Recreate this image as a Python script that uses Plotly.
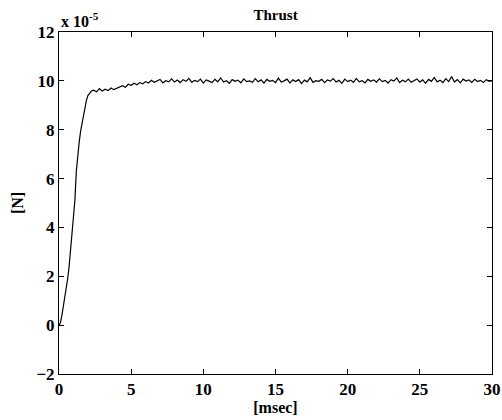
import numpy as np
import plotly.graph_objects as go

# thrust in units of 1e-5 N, time in msec
rise_t = [0.0, 0.1, 0.2, 0.3, 0.4, 0.5, 0.6, 0.7, 0.8, 0.9, 1.0, 1.1,
          1.2, 1.3, 1.4, 1.5, 1.6, 1.7, 1.8, 1.9, 2.0, 2.1, 2.2, 2.3]
rise_thrust = [0.0, 0.1, 0.4, 0.75, 1.1, 1.5, 1.9, 2.4, 3.1, 3.9, 4.5, 5.1,
               6.3, 7.0, 7.5, 7.95, 8.3, 8.65, 8.95, 9.2, 9.4, 9.5, 9.55, 9.6]

plateau_thrust = [
    9.62, 9.55, 9.68, 9.58, 9.66, 9.60, 9.71, 9.64, 9.70, 9.76,
    9.80, 9.74, 9.86, 9.82, 9.90, 9.84, 9.93, 9.88, 9.97, 9.91,
    10.02, 9.94, 9.99, 10.06, 9.92, 10.01, 9.96, 10.08, 9.95, 10.03,
    9.93, 10.05, 9.98, 10.10, 9.94, 10.02, 9.97, 10.07, 9.91, 10.04,
    9.99, 9.93, 10.06, 9.96, 10.12, 9.95, 10.01, 9.90, 10.05, 9.98,
    10.03, 9.92, 10.08, 9.97, 10.00, 9.94, 10.09, 9.96, 10.04, 9.91,
    10.06, 9.98, 10.02, 9.93, 10.11, 9.95, 10.00, 10.07, 9.92, 10.04,
    9.97, 10.05, 9.89, 10.03, 9.96, 10.13, 9.94, 10.01, 9.98, 10.06,
    9.93, 10.04, 9.99, 10.09, 9.95, 10.02, 9.90, 10.07, 9.97, 10.03,
    9.94, 10.10, 9.96, 10.01, 9.92, 10.06, 9.98, 10.04, 9.95, 10.08,
    9.97, 10.02, 9.91, 10.05, 9.99, 10.12, 9.93, 10.03, 9.96, 10.07,
    9.94, 10.01, 10.08, 9.95, 10.04, 9.90, 10.06, 9.98, 10.14, 9.96,
    10.03, 9.93, 10.09, 9.97, 10.18, 9.95, 10.05, 9.92, 10.07, 9.99,
    10.04, 9.94, 10.06, 9.97, 10.02, 9.93, 10.05, 9.98, 10.01,
]
plateau_t = np.linspace(2.4, 30.0, len(plateau_thrust))

x_ticks = [0, 5, 10, 15, 20, 25, 30]
y_ticks = [-2, 0, 2, 4, 6, 8, 10, 12]

t = list(rise_t) + plateau_t.tolist()
thrust = rise_thrust + plateau_thrust

serif = 'Liberation Serif, Times New Roman, serif'

fig = go.Figure(go.Scatter(x=t, y=thrust, mode='lines',
                           line=dict(color='black', width=1.2),
                           showlegend=False))

axis_common = dict(showline=True, linecolor='black', linewidth=1, mirror='allticks',
                   ticks='inside', ticklen=5, tickcolor='black', showgrid=False,
                   zeroline=False, automargin=False,
                   tickfont=dict(family=serif, size=17, color='black', weight='bold'))

fig.update_layout(
    width=502, height=420,
    paper_bgcolor='white', plot_bgcolor='white',
    margin=dict(l=59, r=10, t=32, b=46),
    title=dict(text='Thrust', x=0.549, xanchor='center', y=0.966, yanchor='middle',
               font=dict(family=serif, size=15, color='black', weight='bold')),
    xaxis=dict(range=[0, 30], tickvals=x_ticks,
               title=dict(text='[msec]', standoff=0,
                          font=dict(family=serif, size=16, color='black', weight='bold')),
               **axis_common),
    yaxis=dict(range=[-2, 12], tickvals=y_ticks,
               title=dict(text='[N]', standoff=8,
                          font=dict(family=serif, size=16, color='black', weight='bold')),
               **axis_common),
    annotations=[dict(text='x 10<sup>-5</sup>', xref='paper', yref='paper',
                      x=0.0, y=1.0, xanchor='left', yanchor='bottom', showarrow=False,
                      yshift=0,
                      font=dict(family=serif, size=16, color='black', weight='bold'))],
)

# drop the default 8px page margin so the figure fills the window
fig.write_html("out.html", config={'displayModeBar': False},
               post_script="document.body.style.margin='0';")
